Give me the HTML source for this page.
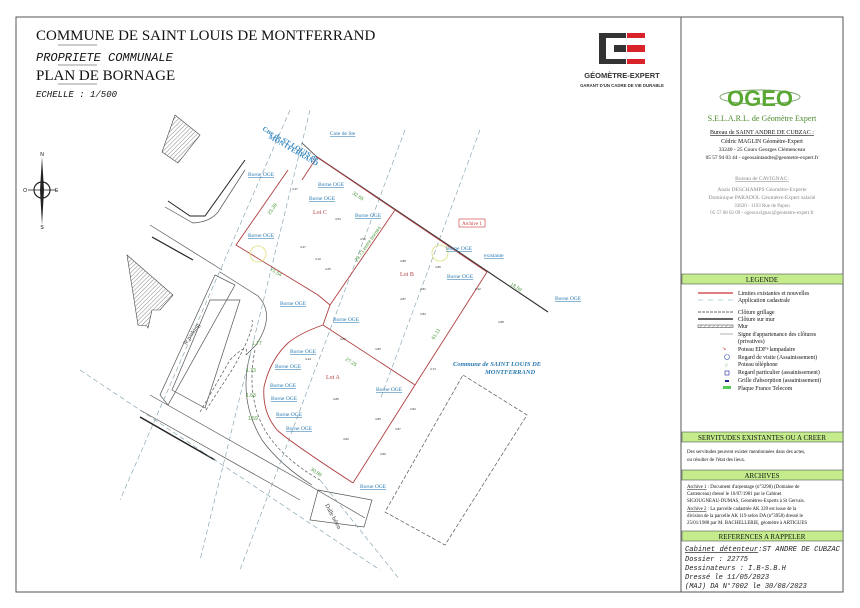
<!DOCTYPE html>
<html><head><meta charset="utf-8"><style>
html,body{margin:0;padding:0;background:#fff;}
svg{display:block;}
.s{font-family:"Liberation Serif",serif;}
.m{font-family:"Liberation Mono",monospace;}
.b{fill:#2a7ab0;font-family:"Liberation Serif",serif;font-size:5.5px;text-decoration:underline;}
.g{fill:#4a9a3a;font-family:"Liberation Sans",sans-serif;font-size:5px;}
.d{fill:#333;font-family:"Liberation Sans",sans-serif;font-size:3px;}
</style></head><body>
<svg width="860" height="608" viewBox="0 0 860 608" xmlns="http://www.w3.org/2000/svg">
<defs>
<pattern id="h" width="3" height="3" patternUnits="userSpaceOnUse" patternTransform="rotate(45)">
<line x1="0" y1="0" x2="0" y2="3" stroke="#555" stroke-width="0.7"/></pattern>
</defs>
<rect x="0" y="0" width="860" height="608" fill="#fff"/>
<rect x="16" y="17" width="827" height="575" fill="none" stroke="#555" stroke-width="1"/>
<line x1="681" y1="17" x2="681" y2="592" stroke="#555" stroke-width="1"/>

<text x="36" y="40" class="s" font-size="15" fill="#111">COMMUNE DE SAINT LOUIS DE MONTFERRAND</text>
<line x1="58" y1="45" x2="97" y2="45" stroke="#777" stroke-width="0.8"/>
<text x="36" y="61" class="m" font-style="italic" font-size="12" fill="#111">PROPRIETE  COMMUNALE</text>
<line x1="58" y1="65" x2="97" y2="65" stroke="#777" stroke-width="0.8"/>
<text x="36" y="80" class="s" font-size="15" fill="#111">PLAN DE BORNAGE</text>
<line x1="58" y1="84" x2="97" y2="84" stroke="#777" stroke-width="0.8"/>
<text x="36" y="97" class="m" font-style="italic" font-size="9" fill="#111">ECHELLE  :  1/500</text>

<rect x="599" y="33" width="7" height="31" fill="#333"/>
<rect x="599" y="33" width="27" height="5" fill="#333"/>
<rect x="599" y="59" width="27" height="5" fill="#333"/>
<rect x="614" y="45" width="12" height="7" fill="#333"/>
<rect x="627" y="33" width="18" height="5" fill="#d8232a"/>
<rect x="627" y="45" width="18" height="7" fill="#d8232a"/>
<rect x="627" y="59" width="18" height="5" fill="#d8232a"/>
<text x="622" y="78" text-anchor="middle" font-family="Liberation Sans,sans-serif" font-weight="bold" font-size="7.5" fill="#333">GÉOMÈTRE-EXPERT</text>
<text x="622" y="87" text-anchor="middle" font-family="Liberation Sans,sans-serif" font-weight="bold" font-size="4.3" fill="#333">GARANT D'UN CADRE DE VIE DURABLE</text>

<g stroke="#222" fill="none">
<circle cx="42" cy="190" r="8" stroke-width="1.2"/>
<line x1="28" y1="190" x2="56" y2="190" stroke-width="0.8"/>
</g>
<polygon points="42,157 44,190 42,225 40,190" fill="#222"/>
<text x="42" y="156" font-size="5" text-anchor="middle" font-family="Liberation Sans,sans-serif">N</text>
<text x="42" y="229" font-size="5" text-anchor="middle" font-family="Liberation Sans,sans-serif">S</text>
<text x="27" y="192" font-size="5" text-anchor="end" font-family="Liberation Sans,sans-serif">O</text>
<text x="55" y="192" font-size="5" font-family="Liberation Sans,sans-serif">E</text>

<polygon points="175,115 200,135 178,163 162,152" fill="url(#h)" stroke="#444" stroke-width="0.6"/>
<polygon points="127,255 173,295 160,310 152,310 148,328 147,326 138,325" fill="url(#h)" stroke="#444" stroke-width="0.6"/>

<g stroke="#555" fill="none" stroke-width="0.7">
<polyline points="168,201 190,216 205,216 245,160" stroke="#222" stroke-width="1"/>
<path d="M165,207 L193,223 Q210,222 218,212 L245,170"/>
<line x1="150" y1="225" x2="222" y2="270"/>
<line x1="152" y1="237" x2="193" y2="260" stroke="#222" stroke-width="1.2"/>
<path d="M220,272 L258,296 Q276,315 256,345 L246,355"/>
<polygon points="215,275 160,395 168,405 235,285"/>
<polygon points="210,300 172,390 205,408 240,300"/>
<path d="M150,395 L300,480 L365,518"/>
<path d="M140,410 L300,500"/>
<line x1="140" y1="417" x2="215" y2="460" stroke="#222" stroke-width="1.5"/>
<polygon points="318,490 372,500 364,527 310,520"/>
<path d="M200,412 L230,360 Q250,340 246,355" stroke-dasharray="3,2"/>
<path d="M206,410 L232,370 Q255,330 252,320" stroke-dasharray="3,2"/>
<path d="M255,350 Q245,400 268,435 Q285,460 320,480" stroke-dasharray="3,2"/>
<path d="M250,355 Q238,400 262,440 Q280,465 312,485"/>
</g>
<polygon points="463,375 527,415 445,545 385,512" fill="none" stroke="#555" stroke-width="0.7" stroke-dasharray="4,2"/>
<g stroke="#7a9aaa" stroke-width="0.6" fill="none" stroke-dasharray="5,3">
<line x1="290" y1="110" x2="120" y2="500"/>
<line x1="310" y1="110" x2="200" y2="560"/>
<line x1="405" y1="130" x2="240" y2="570"/>
<line x1="480" y1="130" x2="380" y2="400"/>
<line x1="80" y1="370" x2="380" y2="570"/>
<line x1="320" y1="480" x2="400" y2="580"/>
</g>

<line x1="317" y1="157" x2="548" y2="312" stroke="#333" stroke-width="1.2"/>
<line x1="302" y1="143" x2="317" y2="157" stroke="#333" stroke-width="0.8"/>
<g stroke="#b04040" stroke-width="0.9" fill="none">
<line x1="317" y1="157" x2="395" y2="210"/>
<line x1="317" y1="157" x2="302" y2="180"/>
<polyline points="288,170 236,245 318,295 330,305"/>
<line x1="395" y1="210" x2="330" y2="305"/>
<line x1="487" y1="272" x2="415" y2="385"/>
<line x1="395" y1="210" x2="487" y2="272"/>
<line x1="323" y1="325" x2="415" y2="385"/>
<line x1="415" y1="385" x2="353" y2="483"/>
<path d="M330,305 L323,325 Q300,333 288,343 Q270,360 264,387 Q262,412 277,430 Q290,442 353,483"/>
</g>
<text x="313" y="214" class="s" font-size="6" fill="#b04040">Lot C</text>
<text x="400" y="276" class="s" font-size="6" fill="#b04040">Lot B</text>
<text x="326" y="379" class="s" font-size="6" fill="#b04040">Lot A</text>
<circle cx="258" cy="254" r="8" fill="none" stroke="#dde07a" stroke-width="0.8"/>
<circle cx="440" cy="253" r="8" fill="none" stroke="#dde07a" stroke-width="0.8"/>

<text x="248" y="176" class="b">Borne OGE</text>
<text x="318" y="186" class="b">Borne OGE</text>
<text x="309" y="200" class="b">Borne OGE</text>
<text x="355" y="217" class="b">Borne OGE</text>
<text x="248" y="237" class="b">Borne OGE</text>
<text x="446" y="250" class="b">Borne OGE</text>
<text x="484" y="257" class="b">existante</text>
<text x="447" y="278" class="b">Borne OGE</text>
<text x="280" y="305" class="b">Borne OGE</text>
<text x="333" y="321" class="b">Borne OGE</text>
<text x="290" y="353" class="b">Borne OGE</text>
<text x="275" y="368" class="b">Borne OGE</text>
<text x="376" y="391" class="b">Borne OGE</text>
<text x="270" y="387" class="b">Borne OGE</text>
<text x="271" y="400" class="b">Borne OGE</text>
<text x="276" y="416" class="b">Borne OGE</text>
<text x="286" y="430" class="b">Borne OGE</text>
<text x="360" y="488" class="b">Borne OGE</text>
<text x="330" y="135" class="b" font-size="4">Cote de Ste</text>
<text x="555" y="300" class="b" font-size="4.5">Borne OGE</text>
<rect x="459" y="219" width="26" height="8" fill="none" stroke="#c33" stroke-width="0.6"/>
<text x="462" y="225" fill="#c33" font-size="5" class="s">Archive 1</text>
<text x="262" y="130" class="s" font-size="7" fill="#3a8ac0" font-weight="bold" transform="rotate(30 262 130)">Cne de ST LOUIS de</text>
<text x="268" y="138" class="s" font-size="7" fill="#3a8ac0" font-weight="bold" transform="rotate(30 268 138)">MONTFERRAND</text>
<text x="453" y="366" class="s" font-size="6.5" fill="#2a7ab0" font-style="italic" font-weight="bold">Commune de SAINT LOUIS DE</text>
<text x="485" y="374" class="s" font-size="6.5" fill="#2a7ab0" font-style="italic" font-weight="bold">MONTFERRAND</text>
<text x="186" y="345" font-size="6" class="s" fill="#333" transform="rotate(-55 186 345)">le parking</text>
<text x="325" y="505" class="s" font-size="6" fill="#333" transform="rotate(62 325 505)">Dalle béton</text>
<text x="270" y="215" class="g" transform="rotate(-55 270 215)">23.39</text>
<text x="357" y="262" class="g" transform="rotate(-55 357 262)">29.73 entre bornes</text>
<text x="434" y="340" class="g" transform="rotate(-58 434 340)">61.11</text>
<text x="270" y="270" class="g" transform="rotate(33 270 270)">21.54</text>
<text x="345" y="360" class="g" transform="rotate(33 345 360)">27.25</text>
<text x="510" y="285" class="g" transform="rotate(33 510 285)">18.59</text>
<text x="352" y="194" class="g" transform="rotate(33 352 194)">32.65</text>
<text x="310" y="470" class="g" transform="rotate(33 310 470)">30.89</text>
<text x="252" y="345" class="g">1.77</text>
<text x="246" y="372" class="g">1.73</text>
<text x="246" y="397" class="g">1.63</text>
<text x="248" y="420" class="g">1.59</text>
<g class="d">
<text x="292" y="190">4.47</text><text x="335" y="220">4.54</text><text x="360" y="240">4.50</text>
<text x="300" y="248">4.27</text><text x="315" y="260">4.10</text><text x="325" y="270">4.65</text>
<text x="400" y="262">4.88</text><text x="435" y="268">4.86</text><text x="420" y="290">4.81</text>
<text x="400" y="300">4.87</text><text x="420" y="315">4.83</text><text x="475" y="290">4.92</text>
<text x="498" y="323">4.88</text><text x="375" y="350">4.85</text><text x="340" y="340">4.80</text>
<text x="305" y="360">4.44</text><text x="333" y="400">4.89</text><text x="343" y="440">4.82</text>
<text x="375" y="420">4.85</text><text x="395" y="430">4.87</text><text x="380" y="455">4.89</text>
<text x="410" y="410">4.82</text><text x="430" y="370">4.74</text>
</g>

<g font-family="Liberation Serif,serif">
<ellipse cx="760" cy="97" rx="40" ry="7" fill="none" stroke="#7aa36a" stroke-width="1"/>
<text x="760" y="106" text-anchor="middle" font-family="Liberation Sans,sans-serif" font-weight="bold" font-size="22" fill="#5aa834">OGEO</text>
<text x="762" y="121" text-anchor="middle" font-size="8" fill="#4a8a2a">S.E.L.A.R.L. de Géomètre Expert</text>
<text x="762" y="134" text-anchor="middle" font-size="6" fill="#111" text-decoration="underline">Bureau de SAINT ANDRE DE CUBZAC :</text>
<text x="762" y="143" text-anchor="middle" font-size="5.8" fill="#111">Cédric MAGLIN Géomètre-Expert</text>
<text x="762" y="151" text-anchor="middle" font-size="5.5" fill="#111">33240 - 25 Cours Georges Clémenceau</text>
<text x="762" y="159" text-anchor="middle" font-size="5.3" fill="#111">05 57 94 03 44 - ogeosaintandre@geometre-expert.fr</text>
<text x="762" y="180" text-anchor="middle" font-size="5.5" fill="#888" text-decoration="underline">Bureau de CAVIGNAC:</text>
<text x="762" y="191" text-anchor="middle" font-size="5.5" fill="#888">Anaïs DESCHAMPS Géomètre-Experte</text>
<text x="762" y="199" text-anchor="middle" font-size="5.5" fill="#888">Dominique PARADOL Géomètre-Expert salarié</text>
<text x="762" y="207" text-anchor="middle" font-size="5" fill="#888">33620 - 1193 Rue de Papon</text>
<text x="762" y="214" text-anchor="middle" font-size="5" fill="#888">05 57 68 62 09 - ogeocavignac@geometre-expert.fr</text>

<rect x="682" y="274" width="161" height="10" fill="#c4ec8c" stroke="#555" stroke-width="0.6"/>
<text x="762" y="282" text-anchor="middle" font-size="7" fill="#111">LEGENDE</text>
<g font-size="5.8" fill="#111">
<line x1="698" y1="293" x2="733" y2="293" stroke="#c33" stroke-width="1.3"/>
<text x="738" y="295">Limites existantes et nouvelles</text>
<line x1="698" y1="300" x2="733" y2="300" stroke="#7ab" stroke-width="0.6" stroke-dasharray="5,5"/>
<text x="738" y="302">Application cadastrale</text>
<line x1="698" y1="312" x2="733" y2="312" stroke="#333" stroke-width="0.7" stroke-dasharray="3,1"/>
<text x="738" y="314">Clôture grillage</text>
<line x1="698" y1="319" x2="733" y2="319" stroke="#333" stroke-width="1.6"/>
<text x="738" y="321">Clôture sur mur</text>
<rect x="698" y="325" width="35" height="2.5" fill="url(#h)" stroke="#333" stroke-width="0.5"/>
<text x="738" y="328">Mur</text>
<line x1="720" y1="334" x2="733" y2="334" stroke="#666" stroke-width="0.5"/>
<text x="738" y="336">Signe d'appartenance des clôtures</text>
<text x="738" y="343">(privatives)</text>
<text x="722" y="350" font-size="5" fill="#c33">↘</text>
<text x="738" y="351">Poteau EDF+lampadaire</text>
<circle cx="727" cy="357" r="2.5" fill="none" stroke="#35a" stroke-width="0.6"/>
<text x="738" y="359">Regard de visite (Assainissement)</text>
<text x="725" y="367" font-size="5" fill="#5a5">//</text>
<text x="738" y="366">Poteau téléphone</text>
<rect x="725" y="371" width="4" height="4" fill="none" stroke="#229" stroke-width="0.6"/>
<text x="738" y="374">Regard particulier (assainissement)</text>
<rect x="725" y="380" width="4" height="2" fill="#229"/>
<text x="738" y="382">Grille d'absorption (assainissement)</text>
<rect x="723" y="386" width="8" height="3" fill="#5c5"/>
<text x="738" y="390">Plaque France Telecom</text>
</g>

<rect x="682" y="432" width="161" height="10" fill="#c4ec8c" stroke="#555" stroke-width="0.6"/>
<text x="762" y="440" text-anchor="middle" font-size="7" fill="#111">SERVITUDES EXISTANTES OU A CREER</text>
<text x="687" y="453" font-size="5" fill="#111">Des servitudes peuvent exister mentionnées dans des actes,</text>
<text x="687" y="461" font-size="5" fill="#111">ou résulter de l'état des lieux.</text>

<rect x="682" y="470" width="161" height="10" fill="#c4ec8c" stroke="#555" stroke-width="0.6"/>
<text x="762" y="478" text-anchor="middle" font-size="7" fill="#111">ARCHIVES</text>
<g font-size="4.9" fill="#111">
<text x="687" y="488"><tspan text-decoration="underline">Archive 1</tspan> : Document d'arpentage (n°3298) (Domaine de</text>
<text x="687" y="495">Castenceau) dressé le 16/07/1981 par le Cabinet</text>
<text x="687" y="502">SIGOUGNEAU-DUMAS, Géomètres-Experts à St Gervais.</text>
<text x="687" y="510"><tspan text-decoration="underline">Archive 2</tspan> : La parcelle cadastrée AK 339 est issue de la</text>
<text x="687" y="517">division de la parcelle AK 119 selon DA (n°3958) dressé le</text>
<text x="687" y="524">25/01/1988 par M. BACHELLERIE, géomètre à ARTIGUES</text>
</g>
<rect x="682" y="531" width="161" height="10" fill="#c4ec8c" stroke="#555" stroke-width="0.6"/>
<text x="762" y="539" text-anchor="middle" font-size="7" fill="#111">REFERENCES A RAPPELER</text>
<g class="m" font-style="italic" font-size="7" fill="#222">
<text x="685" y="551" textLength="155" lengthAdjust="spacingAndGlyphs"><tspan text-decoration="underline">Cabinet détenteur</tspan>:ST ANDRE DE CUBZAC</text>
<text x="685" y="561">Dossier : 22775</text>
<text x="685" y="570">Dessinateurs : I.B-S.B.H</text>
<text x="685" y="579">Dressé le 11/05/2023</text>
<text x="685" y="588">(MAJ) DA N°7002 le 30/08/2023</text>
</g>
</g>
</svg>
</body></html>
